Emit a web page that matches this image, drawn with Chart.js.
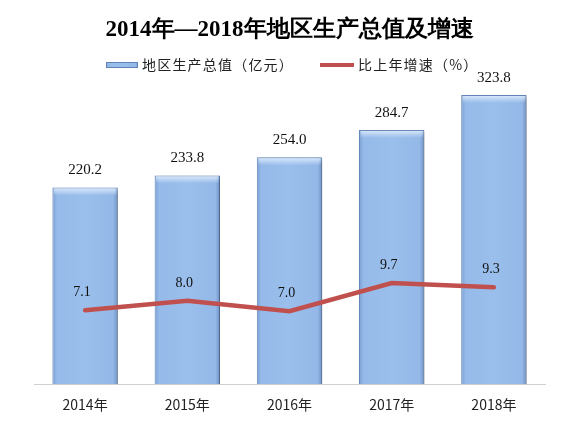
<!DOCTYPE html>
<html>
<head>
<meta charset="utf-8">
<script src="https://cdn.jsdelivr.net/npm/chart.js@4/dist/chart.umd.min.js"></script>
<style>
  body { margin: 0; background: #fff; }
  #wrap { width: 585px; height: 422px; }
</style>
</head>
<body>
<div id="wrap"><canvas id="chart"></canvas></div>
<script>
// data
const years = ['2014年', '2015年', '2016年', '2017年', '2018年'];
const gdp = [220.2, 233.8, 254.0, 284.7, 323.8];
const growth = [7.1, 8.0, 7.0, 9.7, 9.3];
const gdpLabel = '地区生产总值（亿元）';
const growthLabel = '比上年增速（%）';

const serif = '"Liberation Serif", "Times New Roman", serif';
const sans = '"Noto Sans CJK SC", "Noto Sans", sans-serif';
const barFill = '#9BBFEC';
const lineColor = '#C0504D';

function barGradient(ctx, left, width) {
    const g = ctx.createLinearGradient(left, 0, left + width, 0);
    g.addColorStop(0, '#7A9FD2');
    g.addColorStop(0.07, '#96BAE9');
    g.addColorStop(0.5, barFill);
    g.addColorStop(0.93, '#94B8E7');
    g.addColorStop(1, '#6D90C4');
    return g;
}

// bar shading, value labels and the legend
const barLook = {
    id: 'barLook',
    beforeDatasetDraw(chart, args) {
        if (args.index !== 0) return;
        const ctx = chart.ctx;
        args.meta.data.forEach(bar => {
            const left = bar.x - bar.width / 2;
            // options are shared between bars, so give each its own copy
            bar.options = Object.assign({}, bar.options, { backgroundColor: barGradient(ctx, left, bar.width) });
        });
        ctx.save();
        ctx.shadowColor = 'rgba(0,0,0,0.3)';
        ctx.shadowOffsetX = 3;
        ctx.shadowOffsetY = 2;
        ctx.shadowBlur = 4;
    },
    afterDatasetDraw(chart, args) {
        if (args.index !== 0) return;
        const ctx = chart.ctx;
        ctx.restore();
        args.meta.data.forEach(bar => {
            const left = bar.x - bar.width / 2;
            const g = ctx.createLinearGradient(0, bar.y, 0, bar.y + 8);
            g.addColorStop(0, 'rgba(225,238,252,0.95)');
            g.addColorStop(1, 'rgba(225,238,252,0)');
            ctx.fillStyle = g;
            ctx.fillRect(left + 1.5, bar.y + 1, bar.width - 3, 8);
        });
    },
    afterDatasetsDraw(chart) {
        const ctx = chart.ctx;
        ctx.save();
        ctx.fillStyle = '#111';
        ctx.textAlign = 'center';
        ctx.textBaseline = 'middle';
        ctx.font = '15px ' + serif;
        chart.getDatasetMeta(0).data.forEach((bar, i) => {
            ctx.fillText(gdp[i].toFixed(1), bar.x, bar.y - 17);
        });
        ctx.font = '14px ' + serif;
        chart.getDatasetMeta(1).data.forEach((pt, i) => {
            ctx.fillText(growth[i].toFixed(1), pt.x - 3, pt.y - 18);
        });

        // legend
        const ly = 65;
        ctx.font = '14px ' + sans;
        ctx.letterSpacing = '1.2px';
        ctx.textAlign = 'left';
        ctx.fillStyle = barGradient(ctx, 106, 32);
        ctx.fillRect(106, ly - 3, 32, 6);
        ctx.strokeStyle = '#5F84B5';
        ctx.lineWidth = 1;
        ctx.strokeRect(106.5, ly - 2.5, 31, 5);
        ctx.fillStyle = '#222';
        ctx.fillText(gdpLabel, 142, ly);
        ctx.strokeStyle = lineColor;
        ctx.lineWidth = 4;
        ctx.beginPath();
        ctx.moveTo(320, ly);
        ctx.lineTo(354, ly);
        ctx.stroke();
        ctx.fillText(growthLabel, 358, ly);
        ctx.restore();
    }
};

const ctx = document.getElementById('chart').getContext('2d');
const chart = new Chart(ctx, {
    type: 'bar',
    data: {
        labels: years,
        datasets: [{
            label: gdpLabel,
            data: gdp,
            backgroundColor: barFill,
            borderColor: '#6688BA',
            borderWidth: 1,
            barPercentage: 0.64,
            categoryPercentage: 1,
            yAxisID: 'y',
            order: 2
        }, {
            type: 'line',
            label: growthLabel,
            data: growth,
            borderColor: lineColor,
            backgroundColor: lineColor,
            borderWidth: 4.5,
            borderCapStyle: 'round',
            pointRadius: 0,
            tension: 0,
            yAxisID: 'y2',
            order: 1
        }]
    },
    options: {
        responsive: true,
        maintainAspectRatio: false,
        animation: false,
        layout: { padding: { left: 34, right: 40, bottom: 5 } },
        plugins: {
            title: {
                display: true,
                text: '2014年—2018年地区生产总值及增速',
                font: { family: serif, size: 23, weight: 'bold' },
                color: '#000',
                padding: { top: 16, bottom: 28 }
            },
            legend: { display: false },
            tooltip: { enabled: false }
        },
        scales: {
            x: {
                grid: { display: false },
                border: { display: true, color: '#D0D0D0', width: 1 },
                ticks: { font: { family: sans, size: 14 }, color: '#222', padding: 4 }
            },
            y: { display: false, min: 0, max: 350 },
            y2: { display: false, min: 0, max: 30 }
        }
    },
    plugins: [barLook]
});
</script>
</body>
</html>
